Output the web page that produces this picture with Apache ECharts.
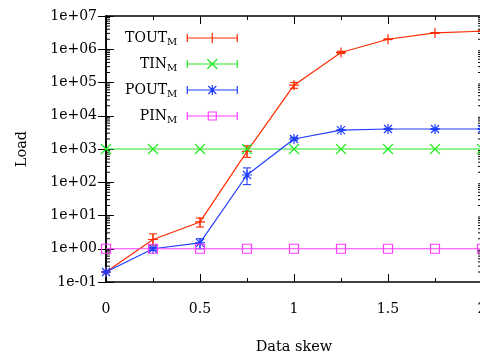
<!DOCTYPE html>
<html><head><meta charset="utf-8">
<script src="https://cdn.jsdelivr.net/npm/echarts@6/dist/echarts.min.js"></script>
<style>html,body{margin:0;padding:0;background:#fff}#c{width:480px;height:356px}</style>
</head><body><div id="c"></div>
<script>
const skew = [0, 0.25, 0.5, 0.75, 1, 1.25, 1.5, 1.75, 2];
const toutM    = [0.2, 1.9, 6.4, 850, 83000, 800000, 2000000, 3100000, 3500000];
const toutLow  = [0.2, 1.3, 4.5, 560, 67000, 740000, 1950000, 3050000, 3450000];
const toutHigh = [0.2, 2.8, 8.4, 1250, 100000, 870000, 2050000, 3150000, 3550000];
const tinM     = [1000, 1000, 1000, 1000, 1000, 1000, 1000, 1000, 1000];
const poutM    = [0.2, 1.0, 1.5, 165, 2000, 3700, 4000, 4000, 4000];
const poutLow  = [0.19, 0.9, 1.0, 85, 1850, 3600, 3900, 3900, 3900];
const poutHigh = [0.21, 1.1, 2.0, 270, 2200, 3800, 4100, 4100, 4100];
const pinM     = [1, 1, 1, 1, 1, 1, 1, 1, 1];
const seriesNames = ['TOUT', 'TIN', 'POUT', 'PIN'];
const yTickLabels = ['1e-01', '1e+00', '1e+01', '1e+02', '1e+03', '1e+04', '1e+05', '1e+06', '1e+07'];
const minorMantissas = [2, 3, 4, 5, 6, 7, 8, 9];
const decades = [0.1, 1, 10, 100, 1000, 10000, 100000, 1000000];

const colors = ['#ff2a00', '#22e822', '#1f3dff', '#ff3cff'];
const FONT = 'DejaVu Serif';

const symPlus = 'path://M5,0L5,10M0,5L10,5';
const symX = 'path://M0,0L10,10M0,10L10,0';
const symStar = 'path://M5,0L5,10M0,5L10,5M1,1L9,9M1,9L9,1';
const symSquare = 'path://M0,0L10,0L10,10L0,10Z';
const symbols = [symPlus, symX, symStar, symSquare];
const legendIcons = [
  'path://M0,5L50,5M0,1L0,9M50,1L50,9M25,0L25,10M20,5L30,5',
  'path://M0,5L50,5M0,1L0,9M50,1L50,9M20,0L30,10M20,10L30,0',
  'path://M0,5L50,5M0,1L0,9M50,1L50,9M25,0L25,10M20,5L30,5M21,1L29,9M21,9L29,1',
  'path://M0,5L50,5M0,1L0,9M50,1L50,9M21,1L29,1L29,9L21,9Z'
];
const values = [toutM, tinM, poutM, pinM];

const minorVals = [];
decades.forEach(d => minorMantissas.forEach(m => minorVals.push([m * d])));

function errSeries(low, high, color) {
  return {
    type: 'custom', xAxisIndex: 0, yAxisIndex: 0, silent: true, z: 3,
    data: skew.map((s, i) => [s, low[i], high[i]]),
    renderItem: function (params, api) {
      const p1 = api.coord([api.value(0), api.value(1)]);
      const p2 = api.coord([api.value(0), api.value(2)]);
      const w = 4;
      const st = { stroke: color, lineWidth: 1.1, fill: null };
      return { type: 'group', children: [
        { type: 'line', shape: { x1: p1[0], y1: p1[1], x2: p2[0], y2: p2[1] }, style: st },
        { type: 'line', shape: { x1: p1[0] - w, y1: p1[1], x2: p1[0] + w, y2: p1[1] }, style: st },
        { type: 'line', shape: { x1: p2[0] - w, y1: p2[1], x2: p2[0] + w, y2: p2[1] }, style: st }
      ]};
    }
  };
}

const lineSeries = seriesNames.map((n, k) => ({
  name: n, type: 'line', xAxisIndex: 0, yAxisIndex: 0, z: 4,
  data: skew.map((s, i) => [s, values[k][i]]),
  symbol: symbols[k], symbolSize: k === 3 ? 9 : 10,
  lineStyle: { color: colors[k], width: 1.2 },
  itemStyle: { color: 'none', borderColor: colors[k], borderWidth: 1.2 },
  emphasis: { disabled: true }
}));

const minorTickSeries = {
  type: 'custom', silent: true, xAxisIndex: 0, yAxisIndex: 0, z: 2,
  data: minorVals,
  renderItem: function (params, api) {
    const l = api.coord([0, api.value(0)]);
    const r = api.coord([2, api.value(0)]);
    const st = { stroke: '#000', lineWidth: 1 };
    return { type: 'group', children: [
      { type: 'line', shape: { x1: l[0], y1: l[1], x2: l[0] + 4, y2: l[1] }, style: st },
      { type: 'line', shape: { x1: r[0], y1: r[1], x2: r[0] - 4, y2: r[1] }, style: st }
    ]};
  }
};

const axisLine = { lineStyle: { color: '#000', width: 1.5 } };

const chart = echarts.init(document.getElementById('c'), null, { renderer: 'canvas' });
chart.setOption({
  animation: false,
  backgroundColor: '#fff',
  textStyle: { fontFamily: FONT },
  grid: { left: 106, right: -2, top: 16, bottom: 74, outerBoundsMode: 'none', containLabel: false },
  legend: {
    orient: 'vertical', align: 'right', left: 120, top: 24,
    itemWidth: 50, itemHeight: 10, itemGap: 7.5,
    selectedMode: false,
    data: seriesNames.map((n, k) => ({
      name: n, icon: legendIcons[k],
      itemStyle: { color: 'none', borderColor: colors[k], borderWidth: 1.2 }
    })),
    formatter: n => n + '{s|M}',
    textStyle: {
      fontFamily: FONT, fontSize: 14, color: '#000', lineHeight: 18,
      rich: { s: { fontFamily: FONT, fontSize: 10, color: '#000', padding: [9, 5, 0, 0] } }
    }
  },
  xAxis: [{
    type: 'value', min: 0, max: 2, interval: 0.5, position: 'bottom',
    name: 'Data skew', nameLocation: 'middle', nameGap: 58,
    nameTextStyle: { fontFamily: FONT, fontSize: 14.5, color: '#000' },
    axisLine: axisLine,
    axisTick: { inside: true, length: 8, lineStyle: { color: '#000' } },
    minorTick: { show: true, splitNumber: 2, length: 4, lineStyle: { color: '#000' } },
    axisLabel: { fontFamily: FONT, fontSize: 14, color: '#000', margin: 20, formatter: v => String(v) },
    splitLine: { show: false }
  }, {
    type: 'value', min: 0, max: 2, interval: 0.5, position: 'top',
    axisLine: axisLine,
    axisTick: { inside: true, length: 8, lineStyle: { color: '#000' } },
    minorTick: { show: true, splitNumber: 2, length: 4, lineStyle: { color: '#000' } },
    axisLabel: { show: false }, splitLine: { show: false }
  }],
  yAxis: [{
    type: 'log', logBase: 10, min: 0.1, max: 1e7, position: 'left',
    name: 'Load', nameLocation: 'middle', nameGap: 76, nameRotate: 90,
    nameTextStyle: { fontFamily: FONT, fontSize: 14.5, color: '#000' },
    axisLine: axisLine,
    axisTick: { inside: true, length: 8, lineStyle: { color: '#000' } },
    axisLabel: { fontFamily: FONT, fontSize: 14, color: '#000', margin: 9,
      formatter: v => yTickLabels[Math.round(Math.log10(v)) + 1] },
    splitLine: { show: false }
  }, {
    type: 'log', logBase: 10, min: 0.1, max: 1e7, position: 'right',
    axisLine: axisLine,
    axisTick: { inside: true, length: 8, lineStyle: { color: '#000' } },
    axisLabel: { show: false }, splitLine: { show: false }
  }],
  series: [
    minorTickSeries,
    errSeries(toutLow, toutHigh, colors[0]),
    lineSeries[0],
    lineSeries[1],
    errSeries(poutLow, poutHigh, colors[2]),
    lineSeries[2],
    lineSeries[3]
  ]
});
</script></body></html>
